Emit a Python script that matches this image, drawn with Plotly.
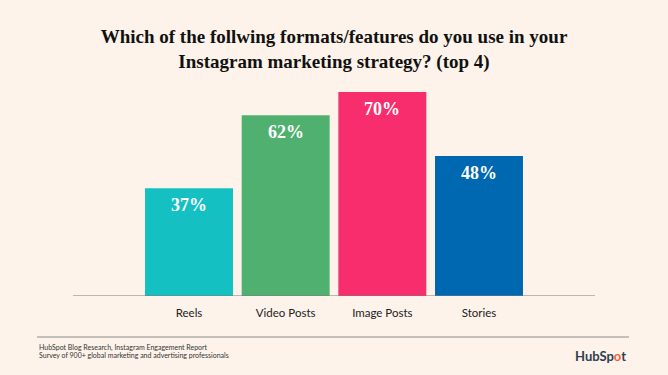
import plotly.graph_objects as go

categories = ["Reels", "Video Posts", "Image Posts", "Stories"]
values = [37, 62, 70, 48]
labels = ["37%", "62%", "70%", "48%"]
colors = ["#14C0C2", "#50B06F", "#F72D6E", "#0068B1"]
footer_lines = ["HubSpot Blog Research, Instagram Engagement Report",
                "Survey of 900+ global marketing and advertising professionals"]

BG = "#FDF3EA"
PW = 522.0
PH = 204.0

fig = go.Figure()
fig.add_trace(go.Bar(
    x=categories, y=values, marker=dict(color=colors, line=dict(width=0)),
    width=0.91, hoverinfo="skip",
))

for c, v, t in zip(categories, values, labels):
    fig.add_annotation(x=c, y=v, text="<b>" + t + "</b>", xref="x", yref="y", yanchor="top",
                       yshift=-5, showarrow=False,
                       font=dict(family="Liberation Serif", size=18, color="white"))

fig.update_layout(
    width=668, height=375,
    paper_bgcolor=BG, plot_bgcolor=BG,
    margin=dict(l=73, r=73, t=92, b=79),
    showlegend=False,
    title=dict(
        text="<b>Which of the follwing formats/features do you use in your<br>Instagram marketing strategy? (top 4)</b>",
        x=0.5, xanchor="center", y=1 - 43/375, yanchor="top",
        font=dict(family="Liberation Serif", size=19, color="#111111"),
    ),
    xaxis=dict(range=[-1.2, 4.2], showgrid=False, zeroline=False, showline=False,
               ticks="", ticklabelstandoff=8,
               tickfont=dict(family="Lato", size=11.5, color="#222222"),
               fixedrange=True),
    yaxis=dict(range=[0, 70], visible=False, fixedrange=True),
    shapes=[
        dict(type="line", xref="paper", yref="y", x0=0, x1=1, y0=0, y1=0,
             line=dict(color="#7a7a7a", width=1.2)),
        dict(type="line", xref="paper", yref="paper", x0=-36/PW, x1=(629-73)/PW,
             y0=-(337-296)/PH, y1=-(337-296)/PH,
             line=dict(color="#8a8a8a", width=1)),
    ],
)

for i, line in enumerate(footer_lines):
    fig.add_annotation(
        xref="paper", yref="paper", x=-36/PW, y=-(347 + 7.5*i - 296)/PH,
        xanchor="left", yanchor="middle", align="left", showarrow=False,
        text=line, font=dict(family="Lato", size=7, color="#333333"),
    )
fig.add_annotation(
    xref="paper", yref="paper", x=(628-73)/PW, y=-(356-296)/PH, xanchor="right", yanchor="middle",
    showarrow=False,
    text="<b>HubSp<span style='color:#FF5C35'>o</span>t</b>",
    font=dict(family="Lato", size=13, color="#2D3E50"),
)

fig.write_html("out.html", config={"displayModeBar": False},
               post_script="document.body.style.margin='0';")
